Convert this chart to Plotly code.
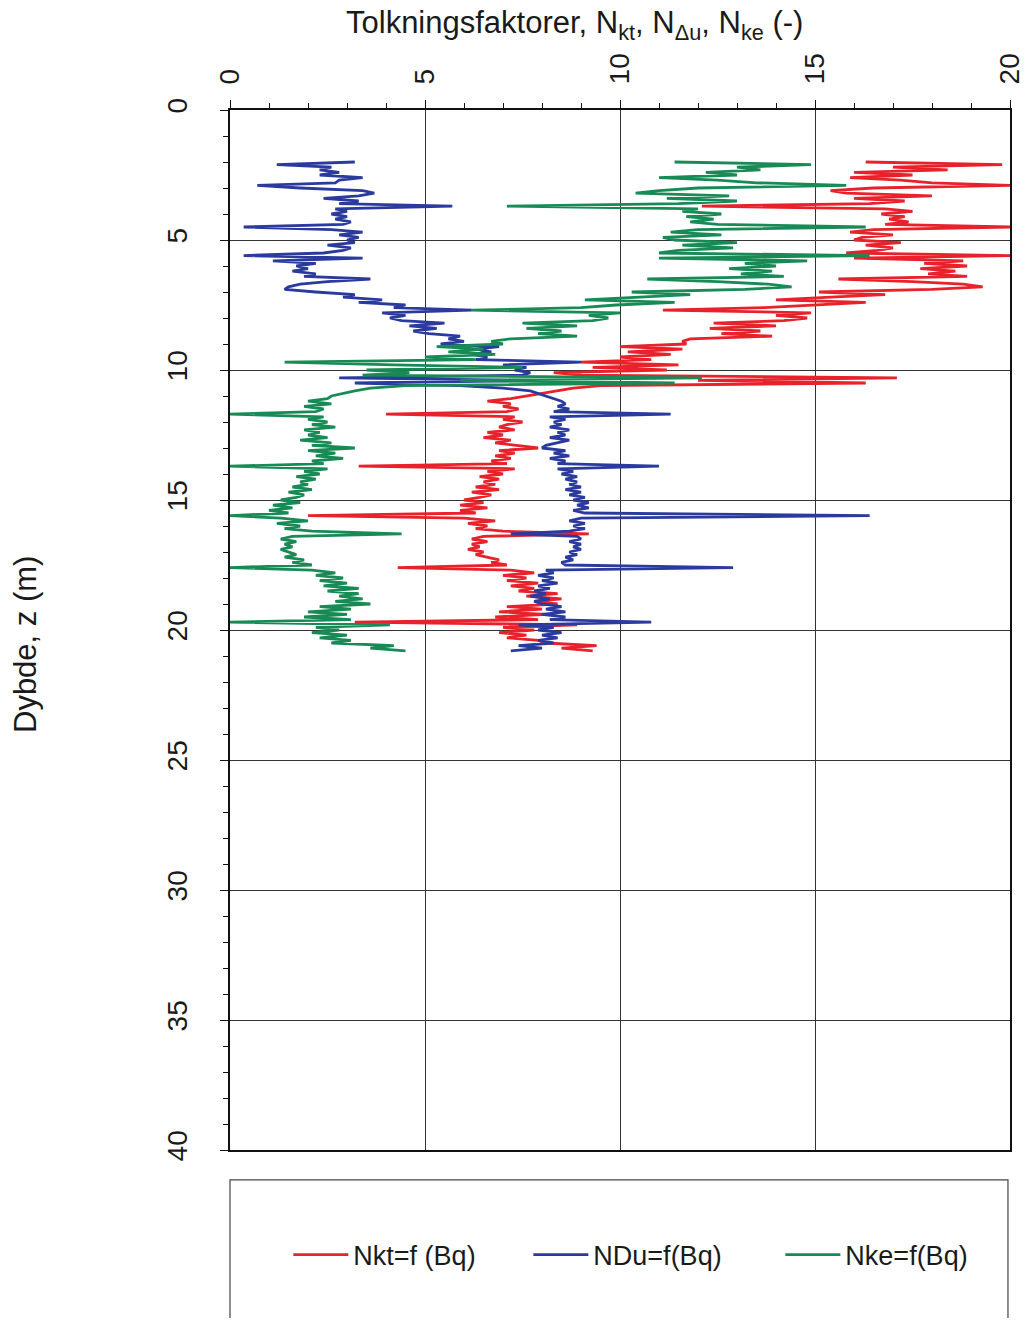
import plotly.graph_objects as go

depth_m = [
    2.0, 2.1, 2.2, 2.3, 2.4, 2.5, 2.6, 2.7, 2.8, 2.9,
    3.0, 3.1, 3.2, 3.3, 3.4, 3.5, 3.6, 3.7, 3.8, 3.9,
    4.0, 4.1, 4.2, 4.3, 4.4, 4.5, 4.6, 4.7, 4.8, 4.9,
    5.0, 5.1, 5.2, 5.3, 5.4, 5.5, 5.6, 5.7, 5.8, 5.9,
    6.0, 6.1, 6.2, 6.3, 6.4, 6.5, 6.6, 6.7, 6.8, 6.9,
    7.0, 7.1, 7.2, 7.3, 7.4, 7.5, 7.6, 7.7, 7.8, 7.9,
    8.0, 8.1, 8.2, 8.3, 8.4, 8.5, 8.6, 8.7, 8.8, 8.9,
    9.0, 9.1, 9.2, 9.3, 9.4, 9.5, 9.6, 9.7, 9.8, 9.9,
    10.0, 10.1, 10.2, 10.3, 10.4, 10.5, 10.6, 10.7, 10.8, 10.9,
    11.0, 11.1, 11.2, 11.3, 11.4, 11.5, 11.6, 11.7, 11.8, 11.9,
    12.0, 12.1, 12.2, 12.3, 12.4, 12.5, 12.6, 12.7, 12.8, 12.9,
    13.0, 13.1, 13.2, 13.3, 13.4, 13.5, 13.6, 13.7, 13.8, 13.9,
    14.0, 14.1, 14.2, 14.3, 14.4, 14.5, 14.6, 14.7, 14.8, 14.9,
    15.0, 15.1, 15.2, 15.3, 15.4, 15.5, 15.6, 15.7, 15.8, 15.9,
    16.0, 16.1, 16.2, 16.3, 16.4, 16.5, 16.6, 16.7, 16.8, 16.9,
    17.0, 17.1, 17.2, 17.3, 17.4, 17.5, 17.6, 17.7, 17.8, 17.9,
    18.0, 18.1, 18.2, 18.3, 18.4, 18.5, 18.6, 18.7, 18.8, 18.9,
    19.0, 19.1, 19.2, 19.3, 19.4, 19.5, 19.6, 19.7, 19.8, 19.9,
    20.0, 20.1, 20.2, 20.3, 20.4, 20.5, 20.6, 20.7, 20.8,
]

nkt = [
    16.3, 19.8, 17.0, 18.4, 16.0, 17.5, 15.9, 17.2, 18.0, 20.0,
    16.5, 15.4, 15.8, 18.0, 16.0, 17.3, 16.4, 12.1, 16.8, 17.5,
    16.7, 17.3, 16.9, 17.4, 16.8, 20.0, 16.5, 15.9, 17.0, 16.2,
    16.0, 17.2, 16.3, 17.0, 16.6, 15.8, 20.0, 16.0, 18.8, 17.8,
    18.9, 17.7, 18.6, 17.9, 18.9, 15.6, 17.5, 18.8, 19.3, 18.0,
    15.1, 16.8, 15.4, 14.0, 16.3, 14.9, 13.7, 11.1, 14.9, 14.0,
    14.8, 14.2, 12.4, 14.0, 12.3, 13.6, 12.6, 13.9, 11.8, 11.6,
    11.7, 10.0, 11.6, 10.2, 11.3, 10.0, 10.8, 9.0, 11.5, 9.3,
    11.2, 8.3, 9.0, 17.1, 12.0, 16.3, 9.5, 8.8, 8.4, 8.0,
    7.7, 7.2, 6.6, 7.2, 7.0, 7.4, 7.1, 4.0, 7.3, 7.0,
    7.5, 7.1, 6.9, 7.3, 6.6, 7.0, 6.5, 7.2, 6.8, 7.4,
    7.9, 6.9, 7.3, 6.8, 7.2, 6.7, 7.1, 3.3, 7.3, 6.6,
    7.0, 6.4, 6.9, 6.5, 6.8, 6.3, 6.9, 6.2, 6.7, 6.4,
    6.0, 6.5, 5.9, 6.6, 5.9, 6.3, 2.0, 6.0, 6.8, 6.1,
    6.6, 6.3, 7.0, 9.2, 6.5, 6.2, 6.6, 6.2, 6.4, 6.1,
    6.5, 6.3, 6.6, 6.9, 6.7, 7.1, 4.3, 7.2, 7.8, 7.0,
    7.6, 7.1, 7.9, 7.2, 7.8, 7.4, 8.4, 7.6, 8.5, 7.8,
    8.4, 7.1, 8.0, 6.9, 8.1, 6.8, 7.9, 3.2, 8.9, 7.0,
    7.8, 6.9, 7.6, 7.1, 7.9, 8.1, 9.4, 8.5, 9.3,
]

ndu = [
    3.2, 1.2, 2.6, 2.3, 2.8, 2.3, 3.4, 2.8, 2.7, 0.7,
    1.8, 3.4, 3.7, 3.3, 2.4, 3.3, 2.8, 5.7, 2.7, 3.0,
    2.6, 3.0, 2.7, 3.1, 2.9, 0.35, 2.6, 3.4, 2.8, 3.3,
    3.0, 3.2, 2.5, 3.1, 2.9, 2.4, 0.35, 3.4, 1.1, 2.2,
    1.7, 2.0, 1.6, 2.2, 1.9, 3.6, 2.5, 1.8, 1.5, 1.4,
    2.2, 3.2, 2.9, 3.9, 3.3, 4.5, 4.2, 6.2, 3.9, 4.5,
    4.1, 4.4, 5.5, 4.6, 5.3, 4.7, 5.1, 5.9, 5.6, 6.0,
    5.4, 6.9, 6.3, 6.7, 6.2, 6.6, 6.3, 9.0, 7.0, 7.6,
    7.3, 7.7, 7.5, 2.8, 7.8, 3.2, 5.9, 7.0, 7.7, 7.9,
    8.1, 8.3, 8.5, 8.6, 8.4, 8.7, 8.3, 11.3, 8.2, 8.6,
    8.3, 8.5, 8.2, 8.7, 8.4, 8.6, 8.2, 8.7, 8.4, 8.1,
    8.0, 8.6, 8.3, 8.7, 8.2, 8.6, 8.4, 11.0, 8.4, 8.8,
    8.5, 8.9, 8.6, 8.9, 8.7, 9.0, 8.6, 9.0, 8.7, 9.1,
    8.8, 9.2, 8.9, 9.2, 8.8, 9.1, 16.4, 9.0, 8.7, 9.1,
    8.8, 9.1, 8.7, 7.2, 8.9, 9.0, 8.7, 9.0, 8.8, 9.0,
    8.7, 8.9, 8.6, 8.8, 8.5, 8.6, 12.9, 8.1, 8.3, 7.9,
    8.3, 8.0, 8.4, 7.9, 8.2, 7.8, 8.1, 7.7, 8.2, 7.8,
    8.0, 8.5, 8.1, 8.6, 8.0, 8.6, 8.2, 10.8, 7.4, 8.3,
    7.9, 8.5, 8.0, 8.4, 7.9, 8.3, 7.4, 8.0, 7.2,
]

nke = [
    11.4, 14.9, 13.0, 13.6, 12.2, 13.0, 11.0, 12.5, 13.5, 15.8,
    12.0, 11.0, 10.4, 12.8, 11.2, 13.0, 11.5, 7.1, 12.0, 11.6,
    12.6, 11.7, 12.4, 11.8, 12.5, 16.3, 12.0, 11.3, 12.6, 11.1,
    11.4, 13.0, 11.6, 12.9, 11.5, 11.0, 16.4, 11.0, 14.8, 13.2,
    14.0, 12.8, 13.9, 13.1, 14.2, 10.7, 12.5, 13.8, 14.4, 13.2,
    10.3, 11.8, 10.5, 9.1, 11.4, 9.9, 9.0, 6.2, 10.0, 9.2,
    9.7, 9.3, 7.5, 8.9, 7.6, 8.5, 7.9, 8.9, 7.2, 6.7,
    7.0, 5.3, 6.5, 5.6, 6.8, 5.0, 6.3, 1.4, 4.2, 7.5,
    3.5, 4.6, 3.4, 12.1, 5.9, 11.4, 4.5, 3.6, 3.2, 2.9,
    2.6, 2.5, 2.0, 2.6, 1.9, 2.4, 2.2, 0.0, 2.4, 2.0,
    2.5, 2.1, 2.7, 1.9, 2.3, 2.0, 2.5, 1.8, 2.6, 2.1,
    3.2, 2.0, 2.7, 2.2, 2.9, 2.1, 2.4, 0.0, 2.5, 1.9,
    2.3, 1.7, 2.2, 1.8, 2.0, 1.6, 2.1, 1.5, 1.9, 1.7,
    1.3, 1.8, 1.1, 1.6, 1.0, 1.5, 0.0, 1.3, 2.0, 1.2,
    1.8, 1.4, 2.1, 4.4, 1.6, 1.3, 1.7, 1.4, 1.6, 1.3,
    1.5, 1.7, 1.4, 1.9, 1.6, 2.1, 0.0, 2.1, 2.7, 2.2,
    2.9, 2.3, 3.0, 2.4, 3.3, 2.5, 3.3, 2.8, 3.4, 2.7,
    3.6, 2.3, 3.1, 2.0, 3.0, 1.9, 3.1, 0.0, 4.1, 2.2,
    2.8, 2.1, 3.0, 2.3, 3.1, 2.6, 4.2, 3.6, 4.5,
]

series_names = ["Nkt=f (Bq)", "NDu=f(Bq)", "Nke=f(Bq)"]
series_values = [nkt, ndu, nke]
series_colors = ["#e8212b", "#2b3a9e", "#178a55"]
legend_widths = [170, 182, 130]

x_ticks = [0, 5, 10, 15, 20]
y_ticks = [0, 5, 10, 15, 20, 25, 30, 35, 40]

FONT = "Liberation Sans, Arial, sans-serif"
TXT = "#1a1a1a"

fig = go.Figure()
for name, vals, col, lw in zip(series_names, series_values, series_colors, legend_widths):
    fig.add_trace(go.Scatter(
        x=vals, y=depth_m, mode="lines", name=name,
        line=dict(color=col, width=2.8),
        legendwidth=lw,
    ))

axis_common = dict(
    showline=True, linecolor="#111", linewidth=2, mirror=True,
    showgrid=True, gridcolor="#333", gridwidth=1,
    ticks="outside", ticklen=8, tickwidth=1, tickcolor="#111",
    tickangle=-90, zeroline=False, automargin=False,
    tickfont=dict(family=FONT, size=28, color=TXT),
)

fig.update_xaxes(
    range=[0, 20], side="top", tickvals=x_ticks,
    minor=dict(dtick=1, ticks="outside", ticklen=5, tickcolor="#111", showgrid=False),
    ticklabelstandoff=10,
    **axis_common,
)
fig.update_yaxes(
    range=[40, 0], tickvals=y_ticks,
    minor=dict(dtick=1, ticks="outside", ticklen=5, tickcolor="#111", showgrid=False),
    ticklabelstandoff=22,
    **axis_common,
)

# page body adds an 8px margin: size the figure to fit the window
fig.update_layout(
    width=1018, height=1310,
    margin=dict(l=222, r=16, t=102, b=168, autoexpand=False),
    plot_bgcolor="white", paper_bgcolor="white",
    font=dict(family=FONT, color=TXT),
    showlegend=True,
    legend=dict(
        orientation="h", xanchor="left", yanchor="middle",
        x=0.0748, y=-0.101,
        font=dict(family=FONT, size=27, color=TXT),
        itemwidth=55,
        bgcolor="rgba(0,0,0,0)", traceorder="normal",
    ),
    shapes=[dict(
        type="rect", xref="paper", yref="paper",
        x0=0.0, x1=0.9974, y0=-0.0288, y1=-0.3,
        line=dict(color="#444", width=1.2), fillcolor="rgba(0,0,0,0)",
    )],
    annotations=[
        dict(
            text="Tolkningsfaktorer, N<sub>kt</sub>, N<sub>Δu</sub>, N<sub>ke</sub> (-)",
            xref="paper", yref="paper", x=0.442, y=1.0817,
            xanchor="center", yanchor="middle", showarrow=False,
            font=dict(family=FONT, size=31, color=TXT),
        ),
        dict(
            text="Dybde, z (m)", textangle=-90,
            xref="paper", yref="paper", x=-0.2615, y=0.4856,
            xanchor="center", yanchor="middle", showarrow=False,
            font=dict(family=FONT, size=31, color=TXT),
        ),
    ],
)

fig.write_html("out.html")
